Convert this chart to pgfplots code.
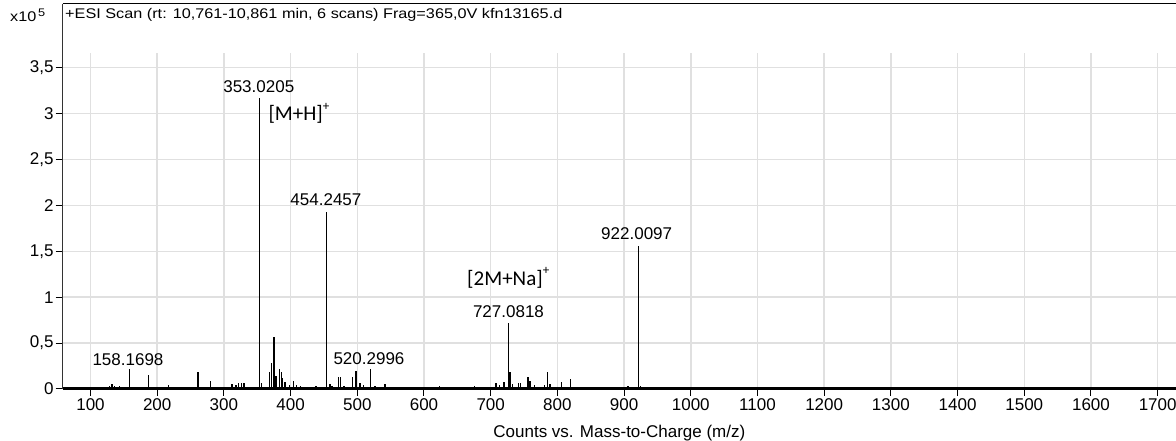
\documentclass[border=0pt]{standalone}
\usepackage{pgfplots}
\pgfplotsset{compat=1.18}
\usepackage{fontspec}
\setmainfont{Liberation Sans}
\newfontfamily\calfont{Carlito}
\newfontfamily\titlefont[FakeStretch=1.16]{Liberation Sans}
\definecolor{gridc}{RGB}{224,224,224}

\pgfplotstableread{
mz h
100 0.02
103 0.015
108 0.025
113 0.02
118 0.015
124 0.025
128 0.035
132 0.055
136 0.03
143 0.03
147 0.02
158.17 0.215
162 0.02
187 0.155
217 0.045
220 0.02
261 0.185
280 0.085
312 0.05
318 0.04
322 0.065
326 0.07
330 0.065
353.02 3.17
356.6 0.065
368 0.19
371 0.28
375 0.57
378 0.14
383.6 0.22
386 0.19
388 0.12
391.6 0.075
398 0.045
404 0.085
409 0.045
415 0.03
420 0.025
426 0.02
438 0.03
454.25 1.93
459 0.05
462 0.03
471.6 0.13
475.2 0.13
480 0.03
493 0.13
498 0.2
504 0.06
509 0.045
520.30 0.215
526.5 0.03
541.5 0.05
623 0.03
676 0.03
708 0.065
713 0.045
720 0.075
727.08 0.719
729 0.19
733 0.05
742 0.065
745 0.065
756 0.13
759 0.085
766 0.04
781 0.04
785 0.185
789 0.05
806 0.075
820 0.105
906 0.03
922.01 1.558
925 0.03
992 0.025
1004 0.025
1037 0.025
1061 0.025
1190 0.025
1217 0.025
1244 0.025
1274 0.025
1322 0.025
1331 0.025
1363 0.025
1411 0.025
1435 0.025
1465 0.025
1507 0.025
1531 0.025
1561 0.025
1573 0.025
1591 0.025
1603 0.025
1630 0.025
1669 0.025
1690 0.025
}\spectrum

\begin{document}
\begin{tikzpicture}[font=\fontsize{17}{20}\selectfont]
\begin{axis}[
  scale only axis, width=1113.3pt, height=336pt,
  xmin=58.3, xmax=1727.5, ymin=0, ymax=3.66,
  axis x line*=bottom, axis y line*=left,
  x axis line style={-, line width=3pt, black},
  y axis line style={-, line width=1.6pt, black!80},
  xtick={100,200,300,400,500,600,700,800,900,1000,1100,1200,1300,1400,1500,1600,1700},
  xticklabels={100,200,300,400,500,600,700,800,900,1000,1100,1200,1300,1400,1500,1600,1700},
  ytick={0,0.5,1,1.5,2,2.5,3,3.5},
  yticklabels={0,{0,5},1,{1,5},2,{2,5},3,{3,5}},
  grid=major, major grid style={gridc, line width=1.5pt},
  tick align=outside, major tick length=7pt,
  tick style={black, line width=1pt},
  xticklabel style={inner sep=2pt},
  yticklabel style={inner sep=2pt},
  xlabel={Counts vs. Mass-to-Charge (m/z)},
  xlabel style={inner sep=1pt, yshift=-12pt},
  clip=false,
]
\addplot[ycomb, black, line width=1.3pt] table[x=mz, y=h] {\spectrum};

\node at (axis cs:156.2,0.324) {158.1698};
\node at (axis cs:352.3,3.293) {353.0205};
\node[anchor=west, inner sep=0pt] at (axis cs:366.6,3.0) {\calfont\fontsize{21}{24}\selectfont [M+H]\raisebox{0.5em}{\fontsize{13}{13}\selectfont +}};
\node at (axis cs:453,2.06) {454.2457};
\node at (axis cs:517.5,0.334) {520.2996};
\node at (axis cs:726.7,0.842) {727.0818};
\node[anchor=west, inner sep=0pt] at (axis cs:664.5,1.209) {\calfont\fontsize{21}{24}\selectfont [2M+Na]\raisebox{0.5em}{\fontsize{13}{13}\selectfont +}};
\node at (axis cs:918.9,1.696) {922.0097};

\node[anchor=west, inner sep=0pt] at (axis cs:61.8,4.074) {\titlefont\fontsize{14}{16}\selectfont +ESI Scan (rt: 10,761-10,861 min, 6 scans) Frag=365,0V kfn13165.d};
\node[anchor=west, inner sep=0pt] at (axis cs:-20.7,4.074) {\titlefont\fontsize{14}{16}\selectfont x10\raisebox{0.35em}{\fontsize{11}{12}\selectfont\,5}};

\draw[black!80, line width=1.6pt] (axis cs:58.3,3.66) -- (axis cs:58.3,4.194);
\draw[black, line width=1pt] (axis cs:58.3,4.194) -- (axis cs:1727.5,4.194);

\coordinate (O) at (rel axis cs:0,0);
\end{axis}
\pgfresetboundingbox
\path (O) ++(-62.7pt,-52pt) rectangle ++(1176pt,441pt);
\end{tikzpicture}
\end{document}
